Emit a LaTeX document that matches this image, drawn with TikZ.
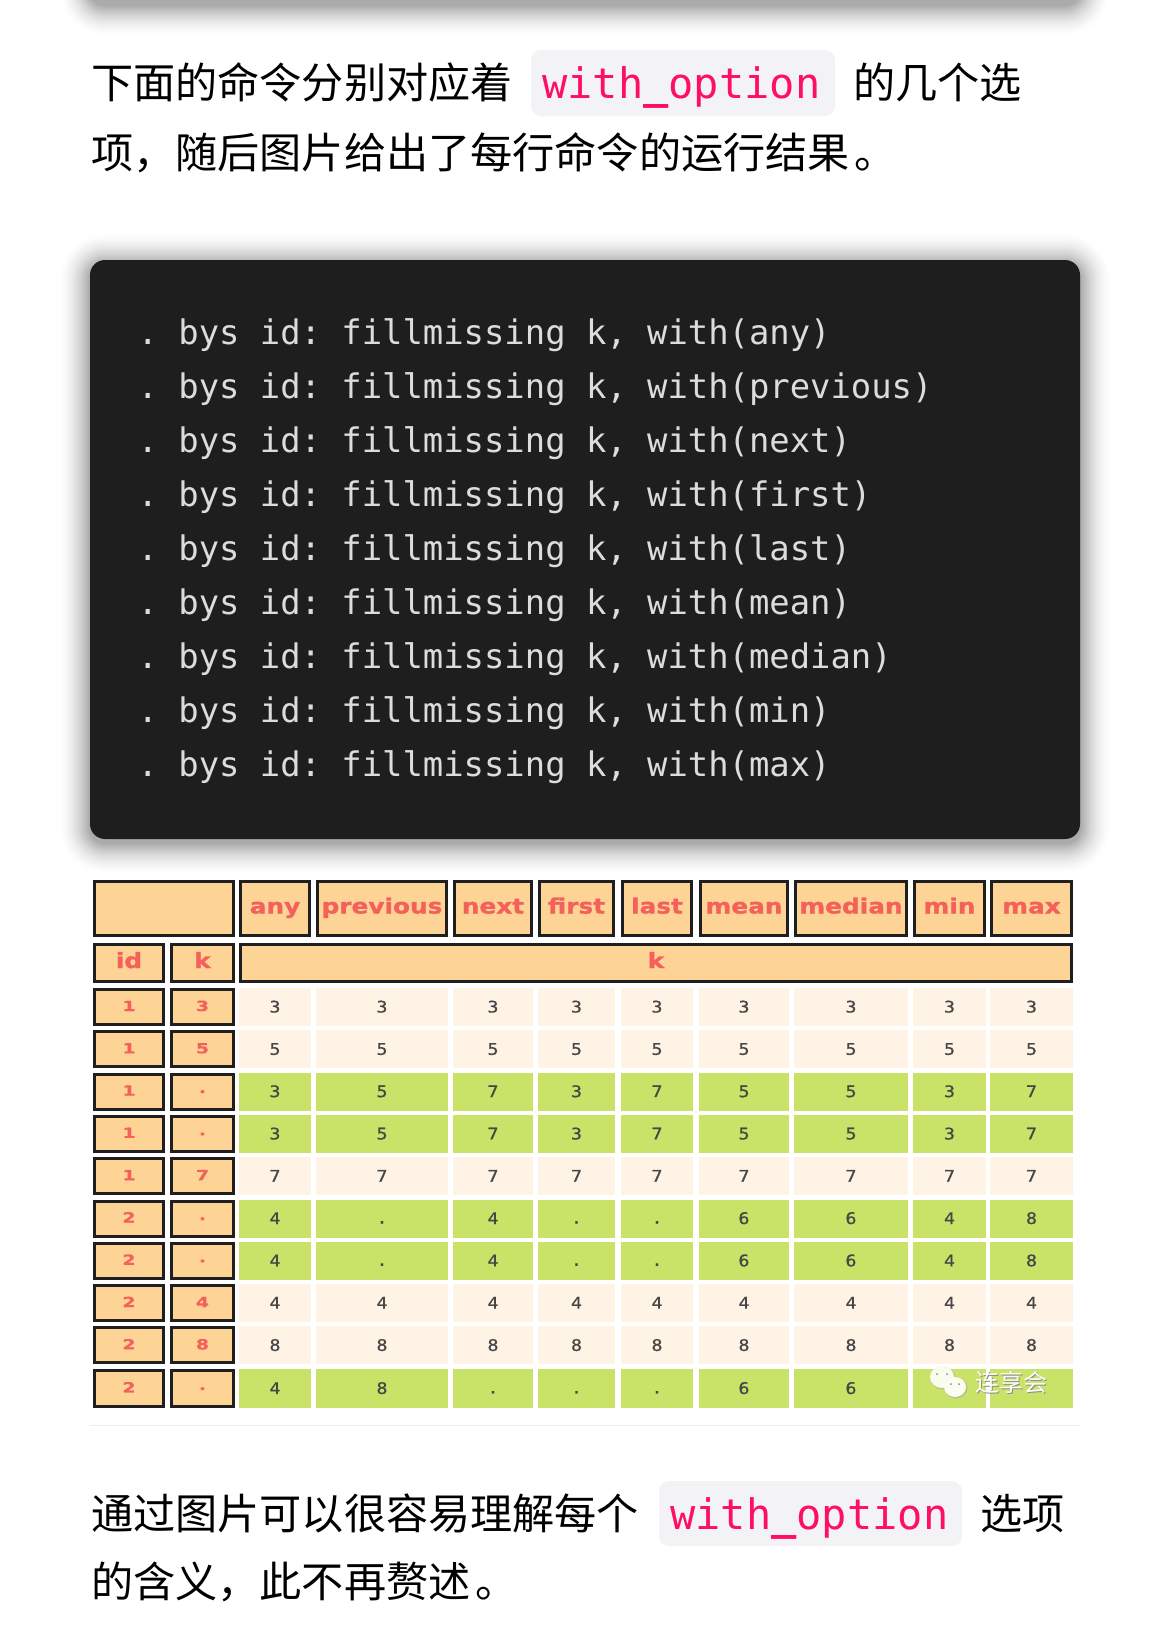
\documentclass[tikz,border=0pt]{standalone}
\usepackage{fontspec}
\setmainfont{DejaVu Sans}
\newfontfamily\cjk{Noto Sans CJK SC}
\newfontfamily\monof{DejaVu Sans Mono}
\newfontfamily\monob{DejaVu Sans Mono Bold}
\newfontfamily\numf[FakeStretch=1.15,FakeBold=0.8]{DejaVu Sans Mono}
\newfontfamily\headf[FakeStretch=1.18,FakeBold=1.2]{DejaVu Sans Bold}
\newfontfamily\digf[FakeStretch=1.35,FakeBold=0.6]{DejaVu Sans Bold}
\definecolor{codebg}{HTML}{1E1E1E}
\definecolor{codefg}{HTML}{DCDCDC}
\definecolor{pink}{HTML}{FF0F63}
\definecolor{chip}{HTML}{F3F3F6}
\definecolor{oran}{HTML}{FDD495}
\definecolor{redt}{HTML}{F4605A}
\definecolor{cream}{HTML}{FEF3E5}
\definecolor{lime}{HTML}{C8E367}
\definecolor{edgek}{HTML}{1F1F1F}
\tikzset{
  para/.style={anchor=base west,inner sep=0pt,font=\cjk\fontsize{42.15}{42}\selectfont,text=black},
  inl/.style={anchor=base west,inner sep=0pt,font=\monof\fontsize{42}{42}\selectfont,text=pink},
  chipbox/.style={fill=chip,rounded corners=10pt,draw=none},
  codeln/.style={anchor=base west,inner sep=0pt,font=\monof\fontsize{33.85}{34}\selectfont\frenchspacing,text=codefg},
  hbox/.style={draw=edgek,line width=3pt,fill=oran,inner sep=0pt,outer sep=0pt,text=redt,font=\headf\fontsize{21}{21}\selectfont},
  vbox/.style={hbox,font=\digf\fontsize{14}{14}\selectfont},
  cellb/.style={inner sep=0pt,outer sep=0pt,text=black!72,font=\numf\fontsize{16}{16}\selectfont},
}
\newcommand{\boxat}[7]{% style, name, x0, y0, x1, y1, text
  \node[#1,minimum width=#5pt-#3pt-3pt,minimum height=#6pt-#4pt-3pt] (#2) at ({(#3+#5)/2},{(#4+#6)/2}) {#7};}
\newcommand{\softshadow}[5]{% x0 y0 x1 y1 radius
  \foreach \k in {1,...,30}{
    \pgfmathsetmacro{\al}{.003+.016*(1-\k/31)}
    \fill[black,opacity=\al,rounded corners={#5pt+\k pt}] ({#1-\k},{#2-\k}) rectangle ({#3+\k},{#4+\k});
  }}
\newcommand{\lowered}[2]{\smash{\raisebox{-#1pt}{#2}}}
\begin{document}
\begin{tikzpicture}[x=1pt,y=-1pt]
\useasboundingbox (0,0) rectangle (1170,1650);
\clip (0,0) rectangle (1170,1650);
\fill[white] (0,0) rectangle (1170,1650);
% shadows
\softshadow{90}{-100}{1080}{5}{15}
\softshadow{90}{264}{1080}{843}{15}
% paragraph 1
\node[para] (p1a) at (91,98) {下面的命令分别对应着};
\fill[chipbox] (531,50) rectangle (835,116);
\node[inl] (c1) at (542,98) {with{\monob\char95}option};
\node[para] (p1b) at (853,98) {的几个选};
\node[para] (p1c) at (91,168) {项，随后图片给出了每行命令的运行结果\hspace{5pt}。};
% code
\node[fill=codebg,rounded corners=15pt,minimum width=990pt,minimum height=579pt,inner sep=0pt,outer sep=0pt] (code) at (585,549.5) {};
\foreach \t [count=\i] in {any,previous,next,first,last,mean,median,min,max}{
  \node[codeln] (cl\i) at (137.5,{344+(\i-1)*54.05}) {. bys id: fillmissing k, with(\t)};
}
% table headers
\boxat{hbox}{hcorner}{93}{880}{235}{937}{}
\foreach \n/\l/\r in {any/239/311,previous/316/448,next/453/533,first/538/615,last/621/693,mean/699/789,median/794/908,min/913/986,max/990/1073}{
  \boxat{hbox}{h\n}{\l}{880}{\r}{937}{\lowered{5}{\n}}
}
\boxat{hbox}{hid}{93}{943}{165}{983}{\lowered{5}{id}}
\boxat{hbox}{hk}{170}{943}{235}{983}{\lowered{5}{k}}
\boxat{hbox}{hbar}{239}{943}{1073}{983}{\lowered{5}{k}}
% table body
\def\colL{{239,316,453,538,621,699,794,913,990}}
\def\colR{{311,448,533,615,693,789,908,986,1073}}
\def\dotstr{.}
\foreach \rid/\rk/\rf/\vals [count=\r] in {
 1/3/cream/{3,3,3,3,3,3,3,3,3},
 1/5/cream/{5,5,5,5,5,5,5,5,5},
 1/./lime/{3,5,7,3,7,5,5,3,7},
 1/./lime/{3,5,7,3,7,5,5,3,7},
 1/7/cream/{7,7,7,7,7,7,7,7,7},
 2/./lime/{4,.,4,.,.,6,6,4,8},
 2/./lime/{4,.,4,.,.,6,6,4,8},
 2/4/cream/{4,4,4,4,4,4,4,4,4},
 2/8/cream/{8,8,8,8,8,8,8,8,8},
 2/./lime/{4,8,.,.,.,6,6,{},{}}}{
  \pgfmathsetmacro{\yt}{988+(\r-1)*42.3}
  \ifnum\r=10 \def\hh{39.5}\else\def\hh{38}\fi
  \pgfmathsetmacro{\yb}{\yt+\hh}
  \boxat{vbox}{id\r}{93}{\yt}{165}{\yb}{\lowered{4}{\rid}}
  \edef\tmpk{\rk}
  \boxat{vbox}{k\r}{170}{\yt}{235}{\yb}{\ifx\tmpk\dotstr\lowered{1.5}{.}\else\lowered{4}{\rk}\fi}
  \foreach \v [count=\c] in \vals {
    \pgfmathsetmacro{\xl}{\colL[\c-1]}
    \pgfmathsetmacro{\xr}{\colR[\c-1]}
    \edef\tmpv{\v}
    \node[cellb,fill=\rf,minimum width=\xr pt-\xl pt,minimum height=\hh pt] (cell\r-\c) at ({(\xl+\xr)/2},{\yt+\hh/2})
      {\ifx\tmpv\dotstr\lowered{5}{.}\else\lowered{5.5}{\v}\fi};
  }
}
% rule below image
\draw[draw=black!7,line width=1pt] (90,1425) -- (1080,1425);
% watermark
\fill[black!35,opacity=.5] (943,1378) ellipse (12.5 and 11.5);
\fill[white!88!lime] (942,1377) ellipse (12 and 11);
\fill[black!35,opacity=.5] (956,1388) ellipse (11.5 and 10.5);
\fill[white!92!lime] (955,1387) ellipse (11 and 10);
\fill[black!45] (937,1374) circle (1) (947,1374) circle (1) (951,1384) circle (1) (959,1384) circle (1);
\node[anchor=center,inner sep=0pt,font=\cjk\fontsize{24}{24}\selectfont,text=black!45] (wm2) at (1012.5,1383) {连享会};
\node[anchor=center,inner sep=0pt,font=\cjk\fontsize{24}{24}\selectfont,text=white!92!lime] (wm) at (1011.5,1382) {连享会};
% paragraph 2
\node[para] (p2a) at (91,1529) {通过图片可以很容易理解每个};
\fill[chipbox] (659,1481) rectangle (962,1546);
\node[inl] (c2) at (670,1529) {with{\monob\char95}option};
\node[para] (p2b) at (980,1529) {选项};
\node[para] (p2c) at (91,1597) {的含义，此不再赘述\hspace{5pt}。};
\end{tikzpicture}
\end{document}
